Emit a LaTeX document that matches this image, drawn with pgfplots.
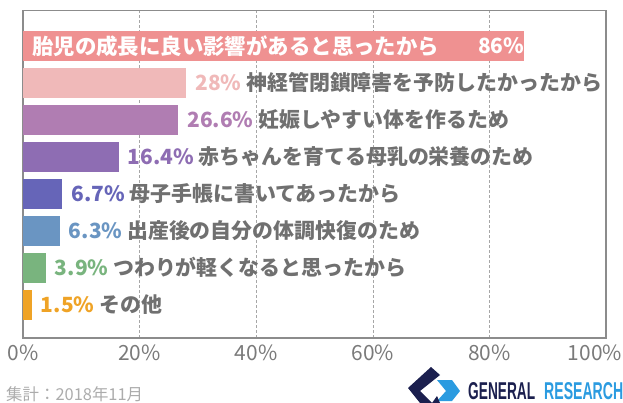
\documentclass[border=0pt]{standalone}
\usepackage{pgfplots}
\pgfplotsset{compat=1.18}
\usepackage{fontspec}
\setmainfont{Noto Sans CJK JP}
\newfontfamily\logofont{Liberation Sans}
\definecolor{c1}{RGB}{239,145,145}
\definecolor{c2}{RGB}{240,185,185}
\definecolor{c3}{RGB}{176,125,178}
\definecolor{c4}{RGB}{142,109,179}
\definecolor{c5}{RGB}{102,101,184}
\definecolor{c6}{RGB}{106,149,194}
\definecolor{c7}{RGB}{121,180,126}
\definecolor{c8}{RGB}{239,163,38}
\definecolor{txtgray}{RGB}{112,112,112}
\definecolor{tickgray}{RGB}{122,122,122}
\definecolor{framegray}{RGB}{140,140,140}
\definecolor{navy}{RGB}{27,31,78}
\definecolor{lblue}{RGB}{43,155,224}
\begin{document}
\begin{tikzpicture}
\begin{axis}[
 at={(0,0)}, anchor=south west,
 width=583bp, height=327.3bp, scale only axis,
 xbar, bar width=30bp, bar shift=0pt,
 xmin=0, xmax=100, ymin=0.1, ymax=8.95,
 xtick={0,20,40,60,80,100},
 xticklabels={0\%,20\%,40\%,60\%,80\%,100\%\rule{22bp}{0pt}},
 ytick=\empty,
 major tick length=0pt,
 xmajorgrids, grid style={dash pattern=on 3bp off 2bp, gray!70, line width=0.6bp},
 axis line style={draw=framegray, line width=1.3bp},
 xticklabel style={font=\fontsize{21}{24}\selectfont, text=tickgray, anchor=center, yshift=-14.7bp},
 clip=false,
 every node near coord/.append style={font=\fontsize{21}{24}\selectfont\bfseries, anchor=west, inner sep=0pt, xshift=9bp, text=txtgray},
]
\addplot[fill=c1, draw=none, nodes near coords={\textcolor{white}{86\%}},
  every node near coord/.append style={anchor=east, xshift=-9bp}] coordinates {(86,8)};
\addplot[fill=c2, draw=none, nodes near coords={\textcolor{c2}{28\%} 神経管閉鎖障害を予防したかったから}] coordinates {(28,7)};
\addplot[fill=c3, draw=none, nodes near coords={\textcolor{c3}{26.6\%} 妊娠しやすい体を作るため}] coordinates {(26.6,6)};
\addplot[fill=c4, draw=none, nodes near coords={\textcolor{c4}{16.4\%} 赤ちゃんを育てる母乳の栄養のため}] coordinates {(16.4,5)};
\addplot[fill=c5, draw=none, nodes near coords={\textcolor{c5}{6.7\%} 母子手帳に書いてあったから}] coordinates {(6.7,4)};
\addplot[fill=c6, draw=none, nodes near coords={\textcolor{c6}{6.3\%} 出産後の自分の体調快復のため}] coordinates {(6.3,3)};
\addplot[fill=c7, draw=none, nodes near coords={\textcolor{c7}{3.9\%} つわりが軽くなると思ったから}] coordinates {(3.9,2)};
\addplot[fill=c8, draw=none, nodes near coords={\textcolor{c8}{1.5\%} その他}] coordinates {(1.5,1)};
\node[anchor=west, inner sep=0pt, xshift=9bp, text=white, font=\fontsize{21.5}{24}\selectfont\bfseries] at (axis cs:0,8) {胎児の成長に良い影響があると思ったから};
\end{axis}
% footer
\node[anchor=west, inner sep=0pt, text=gray!65, font=\fontsize{16.5}{18}\selectfont] at (-17bp,-56.5bp) {集計：2018年11月};
% logo icon
\fill[navy] (385bp,-50bp) -- (408bp,-29bp) -- (417bp,-37bp) -- (397bp,-53bp) -- (409bp,-65bp) -- (397bp,-65bp) -- cycle;
\fill[lblue] (414bp,-42bp) -- (429bp,-42bp) -- (437bp,-53bp) -- (429bp,-63bp) -- (414bp,-63bp) -- (423bp,-53bp) -- cycle;
\fill[navy] (409bp,-65bp) -- (414bp,-58bp) -- (417bp,-65bp) -- cycle;
% logo text
\node[anchor=base west, inner sep=0pt, text=navy] at (445bp,-61bp) {\resizebox{67bp}{17bp}{\logofont\bfseries GENERAL}};
\node[anchor=base west, inner sep=0pt, text=lblue] at (521bp,-61bp) {\resizebox{79bp}{17bp}{\logofont\bfseries RESEARCH}};
\pgfresetboundingbox
\useasboundingbox (-23bp,-65bp) rectangle (600bp,338bp);
\end{tikzpicture}
\end{document}
